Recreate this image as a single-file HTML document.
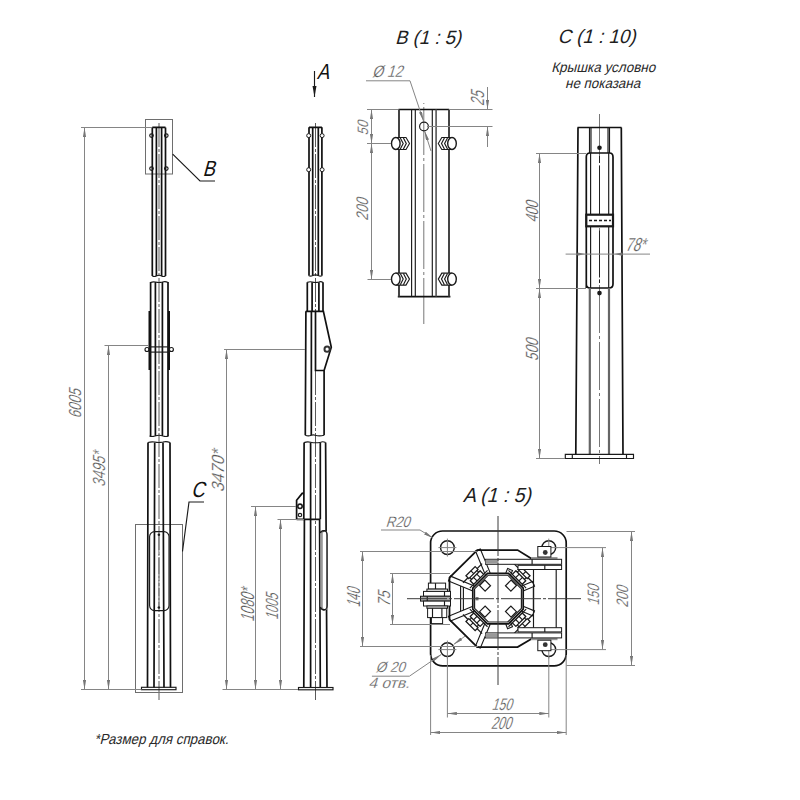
<!DOCTYPE html>
<html><head><meta charset="utf-8">
<style>
html,body{margin:0;padding:0;background:#fff;width:800px;height:800px;overflow:hidden}
svg{display:block}
text{font-family:"Liberation Sans",sans-serif;font-style:normal}
.k{stroke:#111;stroke-width:1.7;fill:none}
.kt{stroke:#1a1a1a;stroke-width:1.15;fill:none}
.kw{stroke:#1a1a1a;stroke-width:1;fill:#fff}
.g{stroke:#858585;stroke-width:1;fill:none}
.c{stroke:#777;stroke-width:1;fill:none;stroke-dasharray:16 2 2 2}
.dt{fill:#6e6e6e;font-size:14px}
.ti{fill:#222;font-size:19px}
</style></head><body>
<svg width="800" height="800" viewBox="0 0 800 800">
<defs>
<marker id="ar" viewBox="0 0 9.5 3.2" refX="9.5" refY="1.6" markerWidth="9.5" markerHeight="3.2" markerUnits="userSpaceOnUse" orient="auto-start-reverse">
<path d="M0,0 L9.5,1.6 L0,3.2 z" fill="#777"/>
</marker>
</defs>

<!-- ============ POLE 1 ============ -->
<g id="pole1">
<line class="c" style="stroke-dasharray:24 2 3 2;stroke:#5a5a5a" x1="159" y1="123" x2="159" y2="700"/>
<rect class="g" style="stroke:#6e6e6e" x="145.5" y="119.5" width="27" height="54.5"/>
<rect class="g" style="stroke:#6e6e6e" x="135.5" y="524.5" width="47" height="168"/>
<!-- section 1 -->
<path class="k" d="M152.3,127.4 V276 M156.4,127.4 V276 M161.6,127.4 V276 M165.5,127.4 V276 M152.3,127.4 H165.5"/>
<path class="kt" d="M152.3,276 q2,1 4,0 q3,-1.5 5.2,0 q2,1 4,0"/>
<circle class="kt" cx="151.5" cy="135.6" r="1.8"/><circle class="kt" cx="166.3" cy="135.6" r="1.8"/>
<circle class="kt" cx="151.5" cy="168.6" r="1.8"/><circle class="kt" cx="166.3" cy="168.6" r="1.8"/>
<!-- section 2 -->
<path class="k" d="M150.6,282 V436 M155.4,282 V436 M162.4,282 V436 M168,282 V436"/>
<path class="kt" d="M150.6,282.5 q2,-1 4.8,-0.5 q3.5,1 7,0 q3,-1 5.6,0.5"/>
<path class="kt" d="M149.5,436 q2,1 5.5,0 q4,-1.5 8,0 q3,1 5.6,0"/>
<path class="k" d="M149.5,311 V370 M169,311 V370" style="stroke-width:2"/>
<rect class="kt" x="149.5" y="346.9" width="19.5" height="5.2" fill="#fff"/>
<circle class="kt" cx="147" cy="349.5" r="2"/><circle class="kt" cx="171.4" cy="349.5" r="2"/>
<!-- section 3 -->
<path class="k" d="M148,442.5 L147.5,687.5 M154.7,442.5 L154,687.5 M163,442.5 L164,687.5 M170,442.5 L170.5,687.5"/>
<path class="kt" d="M148,442.5 q3,-1 6.7,-0.5 q4,1 8.3,0 q3.5,-1 7,0.5"/>
<rect class="kt" x="149.6" y="531.6" width="19.4" height="79" rx="5"/>
<path d="M158.9,536 V606" style="stroke:#777;stroke-width:1;stroke-dasharray:16 2 2 2"/>
<circle cx="158.9" cy="534.8" r="1.3" fill="#1a1a1a"/><circle cx="158.9" cy="607.5" r="1.3" fill="#1a1a1a"/>
<rect class="kt" x="141.5" y="687.3" width="34.5" height="2.4"/>
</g>

<!-- leaders B / C -->
<path class="kt" d="M172.7,154.2 L200,181 H215"/>
<path class="kt" d="M182.5,551.5 L189,502 H204"/>

<!-- dims pole1 -->
<path class="g" d="M81,127.5 H152 M81,689.5 H141.5 M104.5,345.5 H148"/>
<line class="g" x1="84.5" y1="127.5" x2="84.5" y2="689.5" marker-start="url(#ar)" marker-end="url(#ar)"/>
<line class="g" x1="108.5" y1="345.5" x2="108.5" y2="689.5" marker-start="url(#ar)" marker-end="url(#ar)"/>

<!-- ============ POLE 2 ============ -->
<g id="pole2">
<line class="c" style="stroke-dasharray:24 2 3 2;stroke:#5a5a5a" x1="315.5" y1="123" x2="315.5" y2="700"/>
<path class="k" d="M309,127.3 V275.6 M312.7,127.3 V275.6 M318.3,127.3 V275.6 M321.9,127.3 V275.6 M309,127.3 H321.9"/>
<path class="kt" d="M308.6,275.6 q2,1.2 4.1,0 q2.8,-1.5 5.6,0 q2,1.2 4,0"/>
<circle class="kw" cx="308.7" cy="135.6" r="2"/><circle class="kw" cx="322.1" cy="135.6" r="2"/>
<circle class="kw" cx="308.7" cy="169.7" r="2"/><circle class="kw" cx="322.1" cy="169.7" r="2"/>
<path class="k" d="M307.3,282.2 V311.3 M312.1,282.2 V311.3 M318.9,282.2 V311.3 M323,282.2 V311.3"/>
<path class="kt" d="M307.3,282.4 q2.4,-1 4.8,-0.4 q3.4,1 6.8,0 q2,-1 4.1,0.4"/>
<path class="k" d="M305.8,311.3 H323.4 L331.3,347.3 L324.1,370.5 H315.5 V311.3"/>
<path class="k" d="M305.9,311.3 L305.3,435.3 M311.4,311.3 L311.3,435.3 M324.1,370.5 V435.3"/>
<circle cx="327.1" cy="349.2" r="2.6" style="fill:#fff;stroke:#333;stroke-width:2"/>
<path class="kt" d="M305.3,435.3 q3,1.3 6,0 q2,-0.8 4,0 q4,1.3 8.7,0"/>
<path class="k" d="M304.1,442.5 L303.8,519.3 M310.6,442.5 V687.5 M320.3,442.5 V519.3 M325.6,442.5 L327,687.5"/>
<path class="kt" d="M304.1,442.6 q3,-1.3 6.5,-0.4 q5,1.2 10,0 q2.5,-1 5,0.4"/>
<path class="k" d="M296.6,519.3 H320.3 M304.4,519.3 L303.8,687.5 M319.6,519.3 L320.3,687.5"/>
<path class="k" d="M296.6,519.3 V500.3 L302.2,493.4 L303.8,493.1"/>
<circle cx="300" cy="506.3" r="2.2" style="fill:#fff;stroke:#1a1a1a;stroke-width:1.6"/>
<circle class="kt" cx="300" cy="515" r="1.7"/>
<path d="M320.3,533 Q321,530.6 324,530.6 Q327,531 326.9,535 V605 Q327,610 324,610 Q321,609.5 320.3,607" style="fill:#999;stroke:#1a1a1a;stroke-width:1.3"/>
<path d="M322.8,533 V607 Q323,609.5 326.9,609.5 V531.5 Q323,531 322.8,533 Z" fill="#fff"/>
<path class="kt" d="M322.5,531 Q327,529.5 326.9,535 V606 Q327,610.5 322.5,609.5"/>
<rect class="kt" x="298.5" y="687.5" width="34.5" height="2.3"/>
</g>
<!-- A arrow -->
<line class="kt" x1="314.5" y1="71" x2="314.5" y2="97" marker-end="url(#ak)"/>
<path d="M312.5,86 L314.5,97 L316.5,86 z" fill="#1a1a1a"/>

<!-- dims pole2 -->
<path class="g" d="M222.5,689.5 H298 M224,349.5 H305 M251,506.5 H296 M277.5,519.5 H304"/>
<line class="g" x1="226.5" y1="349.5" x2="226.5" y2="689.5" marker-start="url(#ar)" marker-end="url(#ar)"/>
<line class="g" x1="255.5" y1="506.5" x2="255.5" y2="689.5" marker-start="url(#ar)" marker-end="url(#ar)"/>
<line class="g" x1="280.5" y1="519.5" x2="280.5" y2="689.5" marker-start="url(#ar)" marker-end="url(#ar)"/>


<!-- ============ B VIEW ============ -->
<g id="bview">
<line class="c" style="stroke-dasharray:48 3 3 3;stroke-dashoffset:-4" x1="423.8" y1="103" x2="423.8" y2="324"/>
<path class="k" d="M398.5,109.5 H449.2 M397.8,296.6 H450.4" />
<path d="M399,109.5 V296.6 M449,109.5 V296.6" style="stroke:#444;stroke-width:2;fill:none"/>
<path class="kt" d="M411.6,109.5 V296.6 M415.3,109.5 V296.6 M432.3,109.5 V296.6"/>
<path d="M436.1,109.5 V296.6" style="stroke:#555;stroke-width:1.6;fill:none"/>
<circle class="kt" cx="424" cy="126.5" r="4.4"/>
<!-- bolts -->
<g id="boltL" transform="translate(0,143.5)">
<path d="M396,-6 H406 L409.5,0 L406,6 H396 Z" style="fill:#fff;stroke:#1a1a1a;stroke-width:1.1"/>
<path class="kt" d="M400.3,-5.6 L403.2,0 L400.3,5.6 M403.4,-5.6 L406.3,0 L403.4,5.6"/>
<ellipse cx="395.8" cy="0" rx="4.3" ry="6" style="fill:#fff;stroke:#1a1a1a;stroke-width:1.4"/>
</g>
</g>

<use href="#boltL" transform="translate(0,135.6)"/>
<g transform="translate(847.8,0) scale(-1,1)"><use href="#boltL"/><use href="#boltL" transform="translate(0,135.6)"/></g>
<!-- B dims -->
<path class="g" d="M367,109.5 H398 M367,143.5 H391 M367.5,279.5 H391 M449,109.5 H492.5 M427,126.5 H492.5"/>
<line class="g" x1="371.5" y1="109.5" x2="371.5" y2="143.5" marker-start="url(#ar)" marker-end="url(#ar)"/>
<line class="g" x1="371.5" y1="143.5" x2="371.5" y2="279.5" marker-start="url(#ar)" marker-end="url(#ar)"/>
<line class="g" x1="487.5" y1="87" x2="487.5" y2="109.5" marker-end="url(#ar)"/>
<line class="g" x1="487.5" y1="147" x2="487.5" y2="126.5" marker-end="url(#ar)"/>
<path class="g" d="M366,80.8 H410 L423.5,121" marker-end="url(#ar)"/>
<line class="g" x1="431" y1="151" x2="424.6" y2="131" marker-end="url(#ar)"/>

<!-- ============ C VIEW ============ -->
<g id="cview">
<line class="c" style="stroke-dasharray:48 3 3 3" x1="599.5" y1="114" x2="599.5" y2="464"/>
<path class="k" d="M577.5,127.5 H621.5 M578,127.5 L575.8,454.3 M621.3,127.5 L623,454.3"/>
<path class="kt" d="M589.5,127.5 V153 M591,127.5 V153 M608,127.5 V153 M609.5,127.5 V153"/>
<path class="k" d="M586.3,288 V157 Q586.3,153 590,153 H609.5 Q613,153 613,157 V284 Q613,288 609,288 H590 Q586.3,288 586.3,284 Z" fill="#fff"/>
<path class="kt" d="M590.6,153 V214.7 M608.7,153 V214.7 M590.6,226.3 V288 M608.7,226.3 V288"/>
<rect x="586.3" y="214.7" width="26.7" height="11.6" style="fill:#fff;stroke:#1a1a1a;stroke-width:2.2"/>
<path d="M589,220.5 H611" style="stroke:#1a1a1a;stroke-width:1.4;stroke-dasharray:3 2"/>
<path d="M589.8,288 V454.3 M609,288 V454.3" style="stroke:#666;stroke-width:2.2;fill:none"/>
<circle cx="599.5" cy="147.8" r="2.3" fill="#1a1a1a"/>
<path d="M599.5,156 V163 M599.5,166 V214.7 M599.5,230.6 V277.5 M599.5,280 V283" style="stroke:#222;stroke-width:1;fill:none"/>
<circle cx="599.5" cy="293.1" r="2.3" fill="#1a1a1a"/>
<path class="kt" d="M565.3,454.3 H633.5 V458.5 H565.3 Z M572.3,454.3 V458.5 M626.5,454.3 V458.5"/>
</g>
<path class="g" d="M536,153.5 H586 M536,288.5 H586 M536,458.5 H565"/>
<line class="g" x1="539.5" y1="153.5" x2="539.5" y2="288.5" marker-start="url(#ar)" marker-end="url(#ar)"/>
<line class="g" x1="539.5" y1="288.5" x2="539.5" y2="458.5" marker-start="url(#ar)" marker-end="url(#ar)"/>
<line class="g" x1="565.6" y1="254.1" x2="650" y2="254.1"/>
<path d="M577.5,252.5 L585,254.1 L577.5,255.7 z M621.9,252.5 L614.4,254.1 L621.9,255.7 z" fill="#777"/>

<!-- ============ A VIEW ============ -->
<g id="aview">
<rect class="k" x="430.6" y="531" width="135.6" height="134.8" rx="12"/>
<circle class="kt" style="stroke-width:1.4" cx="447.4" cy="547.6" r="6.9"/>
<path class="g" d="M438.4,547.6 H456.4 M447.4,538.6 V556.6"/>
<circle class="kt" style="stroke-width:1.4" cx="548.8" cy="547.6" r="6.9"/>
<path class="g" d="M539.8,547.6 H557.8 M548.8,538.6 V556.6"/>
<circle class="kt" style="stroke-width:1.4" cx="447.4" cy="649.6" r="6.9"/>
<path class="g" d="M438.4,649.6 H456.4 M447.4,640.6 V658.6"/>
<circle class="kt" style="stroke-width:1.4" cx="548.8" cy="649.6" r="6.9"/>
<path class="g" d="M539.8,649.6 H557.8 M548.8,640.6 V658.6"/>
<polygon points="531.25,558.5 517.6,550.1 477.25,550.1 449.5,577.6 449.5,619.6 477.25,647.1 517.6,647.1 531.25,639 533.5,639 533.5,558.5" fill="#fff"/>
<polyline class="kt" points="463.40,612.93 463.40,584.27" />
<polyline class="kt" points="460.60,614.09 460.60,583.11" />
<polyline class="kt" points="533.50,583.90 533.50,613.30" />
<polyline class="kt" points="533.50,583.90 533.50,613.30" />
<polyline class="kt" points="472.27,590.76 448.50,580.91 450.49,576.11 474.26,585.95" style="fill:#fff"/>
<polyline class="kt" points="474.26,611.25 450.49,621.09 448.50,616.29 472.27,606.44" style="fill:#fff"/>
<polyline class="kt" points="485.35,574.86 475.51,551.09 480.31,549.10 490.16,572.87" style="fill:#fff"/>
<polyline class="kt" points="490.16,624.33 480.31,648.10 475.51,646.11 485.35,622.34" style="fill:#fff"/>
<polyline class="kt" points="505.84,572.87 507.65,568.50 512.46,570.49 510.65,574.86" style="fill:#fff"/>
<polyline class="kt" points="510.65,622.34 512.46,626.71 507.65,628.70 505.84,624.33" style="fill:#fff"/>
<polyline class="kt" points="521.74,585.95 532.48,581.50 534.47,586.31 523.73,590.76" style="fill:#fff"/>
<polyline class="kt" points="523.73,606.44 534.47,610.89 532.48,615.70 521.74,611.25" style="fill:#fff"/>
<polyline class="kt" points="463.00,582.69 482.09,563.60" style="stroke-width:1.3"/>
<polyline class="kt" points="469.86,588.13 487.53,570.46" />
<polygon class="kt" points="468.80,578.59 477.99,569.40 475.16,566.57 465.97,575.76" style="fill:#fff;stroke-width:1.3"/>
<polyline class="kt" points="473.75,573.64 470.92,570.81" />
<polygon class="kt" points="473.75,584.25 483.65,574.35 480.11,570.81 470.21,580.71" style="fill:#fff;stroke-width:1.3;stroke-linejoin:round"/>
<polyline class="kt" points="477.07,580.92 473.53,577.39" />
<polyline class="kt" points="480.32,577.67 476.79,574.13" />
<polyline class="kt" points="471.62,579.30 469.86,577.53" />
<polyline class="kt" points="478.70,572.22 476.93,570.46" />
<polygon class="kt" points="485.13,591.10 490.50,585.73 484.92,580.14 479.54,585.52" style="stroke-width:1.2"/>
<polyline class="kt" points="513.91,563.60 533.00,582.69" style="stroke-width:1.3"/>
<polyline class="kt" points="508.47,570.46 526.14,588.13" />
<polygon class="kt" points="518.01,569.40 527.20,578.59 530.03,575.76 520.84,566.57" style="fill:#fff;stroke-width:1.3"/>
<polyline class="kt" points="522.96,574.35 525.79,571.52" />
<polygon class="kt" points="512.35,574.35 522.25,584.25 525.79,580.71 515.89,570.81" style="fill:#fff;stroke-width:1.3;stroke-linejoin:round"/>
<polyline class="kt" points="515.68,577.67 519.21,574.13" />
<polyline class="kt" points="518.93,580.92 522.47,577.39" />
<polyline class="kt" points="517.30,572.22 519.07,570.46" />
<polyline class="kt" points="524.38,579.30 526.14,577.53" />
<polygon class="kt" points="505.50,585.73 510.87,591.10 516.46,585.52 511.08,580.14" style="stroke-width:1.2"/>
<polyline class="kt" points="533.00,614.51 513.91,633.60" style="stroke-width:1.3"/>
<polyline class="kt" points="526.14,609.07 508.47,626.74" />
<polygon class="kt" points="527.20,618.61 518.01,627.80 520.84,630.63 530.03,621.44" style="fill:#fff;stroke-width:1.3"/>
<polyline class="kt" points="522.25,623.56 525.08,626.39" />
<polygon class="kt" points="522.25,612.95 512.35,622.85 515.89,626.39 525.79,616.49" style="fill:#fff;stroke-width:1.3;stroke-linejoin:round"/>
<polyline class="kt" points="518.93,616.28 522.47,619.81" />
<polyline class="kt" points="515.68,619.53 519.21,623.07" />
<polyline class="kt" points="524.38,617.90 526.14,619.67" />
<polyline class="kt" points="517.30,624.98 519.07,626.74" />
<polygon class="kt" points="510.87,606.10 505.50,611.47 511.08,617.06 516.46,611.68" style="stroke-width:1.2"/>
<polyline class="kt" points="482.09,633.60 463.00,614.51" style="stroke-width:1.3"/>
<polyline class="kt" points="487.53,626.74 469.86,609.07" />
<polygon class="kt" points="477.99,627.80 468.80,618.61 465.97,621.44 475.16,630.63" style="fill:#fff;stroke-width:1.3"/>
<polyline class="kt" points="473.04,622.85 470.21,625.68" />
<polygon class="kt" points="483.65,622.85 473.75,612.95 470.21,616.49 480.11,626.39" style="fill:#fff;stroke-width:1.3;stroke-linejoin:round"/>
<polyline class="kt" points="480.32,619.53 476.79,623.07" />
<polyline class="kt" points="477.07,616.28 473.53,619.81" />
<polyline class="kt" points="478.70,624.98 476.93,626.74" />
<polyline class="kt" points="471.62,617.90 469.86,619.67" />
<polygon class="kt" points="490.50,611.47 485.13,606.10 479.54,611.68 484.92,617.06" style="stroke-width:1.2"/>
<polygon class="k" points="523.20,609.04 508.44,623.80 487.56,623.80 472.80,609.04 472.80,588.16 487.56,573.40 508.44,573.40 523.20,588.16" />
<polygon class="kt" points="521.40,608.29 507.69,622.00 488.31,622.00 474.60,608.29 474.60,588.91 488.31,575.20 507.69,575.20 521.40,588.91" />
<rect x="475.5" y="597" width="3" height="3.4" fill="#777"/>
<polyline class="k" style="stroke-width:1.8" points="531.25,558.5 517.6,550.1 477.25,550.1 449.5,577.6 449.5,619.6 477.25,647.1 517.6,647.1 531.25,639"/>
<path class="kt" d="M533.5,569.5 V628.5 M556.2,569.5 V628.5"/>
<g>
<rect x="531" y="557" width="26.5" height="2.3" fill="#999"/>
<rect x="485.5" y="559.3" width="76.1" height="5" class="kw"/>
<rect x="485.5" y="559.8" width="13" height="4" fill="#999"/>
<rect x="518" y="565.3" width="43.6" height="4.2" class="kw"/>
<path class="kt" d="M544.8,565.3 V569.5 M532.1,559.3 V564.3"/>
<rect x="537.8" y="546.5" width="13.1" height="10.5" class="kw"/>
<circle cx="545.25" cy="552.5" r="2.4" fill="#333"/>
</g>
<g transform="translate(0,1197.2) scale(1,-1)">
<rect x="531" y="557" width="26.5" height="2.3" fill="#999"/>
<rect x="485.5" y="559.3" width="76.1" height="5" class="kw"/>
<rect x="485.5" y="559.8" width="13" height="4" fill="#999"/>
<rect x="518" y="565.3" width="43.6" height="4.2" class="kw"/>
<path class="kt" d="M544.8,565.3 V569.5 M532.1,559.3 V564.3"/>
<rect x="537.8" y="546.5" width="13.1" height="10.5" class="kw"/>
<circle cx="545.25" cy="552.5" r="2.4" fill="#333"/>
</g>
<g>
<rect class="kw" x="428.4" y="583.1" width="17.2" height="6"/><path class="kt" d="M435.5,583.1 V589.1"/>
<rect class="kw" x="426.9" y="589.1" width="20.6" height="2.3"/>
<rect class="kw" x="423.5" y="591.4" width="27" height="4.85"/><path class="kt" d="M444.5,591.4 V596.25"/>
<rect class="kw" style="fill:#aaa" x="420.5" y="596.25" width="30" height="4.85"/><path class="kt" d="M427.25,596.25 V601.1"/>
<rect class="kw" x="423.5" y="601.1" width="27" height="4.9"/><path class="kt" d="M444.5,601.1 V606"/>
<rect class="kw" x="426.9" y="606" width="20.6" height="2.25"/>
<rect class="kw" x="427.6" y="608.25" width="19.15" height="9.35"/><path class="kt" d="M432.5,608.25 V617.6 M441.9,608.25 V617.6"/>
<rect class="kw" x="431.4" y="617.6" width="11.2" height="6"/>
</g>
<line style="stroke:#3a3a3a;stroke-width:1;stroke-dasharray:40 2 3 2" x1="498" y1="516" x2="498" y2="685"/>
<line style="stroke:#3a3a3a;stroke-width:1;stroke-dasharray:40 2 3 2" x1="407" y1="598.7" x2="581" y2="598.7"/>

</g>

<!-- A dims -->
<path class="g" d="M360,551.5 H478 M360,646.5 H478 M390,573.5 H450 M390,624.5 H450"/>
<line class="g" x1="362.5" y1="551.5" x2="362.5" y2="646.5" marker-start="url(#ar)" marker-end="url(#ar)"/>
<line class="g" x1="392.5" y1="573.5" x2="392.5" y2="624.5" marker-start="url(#ar)" marker-end="url(#ar)"/>
<path class="g" d="M556,547.6 H606 M566.5,531.5 H635 M566.5,665.5 H635"/>
<path class="g" d="M556,649.6 H606"/>
<line class="g" x1="602.5" y1="547.6" x2="602.5" y2="649.6" marker-start="url(#ar)" marker-end="url(#ar)"/>
<line class="g" x1="631.5" y1="531.5" x2="631.5" y2="665.5" marker-start="url(#ar)" marker-end="url(#ar)"/>
<path class="g" d="M447.4,657 V717.5 M548.8,657 V717.5 M430.6,655 V735 M566.2,655 V735"/>
<line class="g" x1="447.4" y1="713.5" x2="548.8" y2="713.5" marker-start="url(#ar)" marker-end="url(#ar)"/>
<line class="g" x1="430.6" y1="732.5" x2="566.2" y2="732.5" marker-start="url(#ar)" marker-end="url(#ar)"/>
<path class="g" d="M381,530 H420 L433,538" marker-end="url(#ar)"/>
<path class="g" d="M371.9,676.2 H409.4 L441.3,654.4" marker-end="url(#ar)"/>
<line class="g" x1="465" y1="636.2" x2="453.7" y2="644.4" marker-end="url(#ar)"/>

<!-- footnote -->

<text font-size="19.30" textLength="66.02" lengthAdjust="spacingAndGlyphs" style="fill:#1e1e1e" transform="translate(395.00,44.25) skewX(-15)">B (1 : 5)</text>
<text font-size="19.50" textLength="78.05" lengthAdjust="spacingAndGlyphs" style="fill:#1e1e1e" transform="translate(557.38,42.88) skewX(-15)">C (1 : 10)</text>
<text font-size="14.00" textLength="104.03" lengthAdjust="spacingAndGlyphs" style="fill:#2a2a2a" transform="translate(551.20,72.35) skewX(-14)">Крышка условно</text>
<text font-size="14.00" textLength="75.05" lengthAdjust="spacingAndGlyphs" style="fill:#2a2a2a" transform="translate(565.05,87.90) skewX(-14)">не показана</text>
<text font-size="20.50" textLength="68.08" lengthAdjust="spacingAndGlyphs" style="fill:#1e1e1e" transform="translate(462.70,502.00) skewX(-15)">A (1 : 5)</text>
<text font-size="17.45" textLength="29.16" lengthAdjust="spacingAndGlyphs" style="fill:#555;stroke:#fff;stroke-width:0.25" transform="translate(80.50,418.50) rotate(-90) skewX(-17)">6005</text>
<text font-size="17.54" textLength="35.13" lengthAdjust="spacingAndGlyphs" style="fill:#555;stroke:#fff;stroke-width:0.25" transform="translate(104.88,486.88) rotate(-90) skewX(-17)">3495*</text>
<text font-size="17.59" textLength="42.07" lengthAdjust="spacingAndGlyphs" style="fill:#555;stroke:#fff;stroke-width:0.25" transform="translate(223.68,492.35) rotate(-90) skewX(-17)">3470*</text>
<text font-size="18.92" textLength="33.19" lengthAdjust="spacingAndGlyphs" style="fill:#555;stroke:#fff;stroke-width:0.25" transform="translate(253.75,621.95) rotate(-90) skewX(-17)">1080*</text>
<text font-size="17.59" textLength="26.24" lengthAdjust="spacingAndGlyphs" style="fill:#555;stroke:#fff;stroke-width:0.25" transform="translate(277.68,620.08) rotate(-90) skewX(-17)">1005</text>
<text font-size="16.62" textLength="30.19" lengthAdjust="spacingAndGlyphs" style="fill:#555;stroke:#fff;stroke-width:0.25" transform="translate(372.07,77.35) skewX(-17)">Ø 12</text>
<text font-size="18.97" textLength="14.28" lengthAdjust="spacingAndGlyphs" style="fill:#555;stroke:#fff;stroke-width:0.25" transform="translate(484.40,105.95) rotate(-90) skewX(-17)">25</text>
<text font-size="15.11" textLength="14.18" lengthAdjust="spacingAndGlyphs" style="fill:#555;stroke:#fff;stroke-width:0.25" transform="translate(367.80,135.45) rotate(-90) skewX(-17)">50</text>
<text font-size="16.80" textLength="22.18" lengthAdjust="spacingAndGlyphs" style="fill:#555;stroke:#fff;stroke-width:0.25" transform="translate(367.80,220.70) rotate(-90) skewX(-17)">200</text>
<text font-size="17.60" textLength="21.19" lengthAdjust="spacingAndGlyphs" style="fill:#555;stroke:#fff;stroke-width:0.25" transform="translate(537.70,222.75) rotate(-90) skewX(-17)">400</text>
<text font-size="17.60" textLength="22.15" lengthAdjust="spacingAndGlyphs" style="fill:#555;stroke:#fff;stroke-width:0.25" transform="translate(537.70,361.25) rotate(-90) skewX(-17)">500</text>
<text font-size="18.92" textLength="20.24" lengthAdjust="spacingAndGlyphs" style="fill:#555;stroke:#fff;stroke-width:0.25" transform="translate(624.88,250.75) skewX(-17)">78*</text>
<text font-size="15.07" textLength="24.19" lengthAdjust="spacingAndGlyphs" style="fill:#555;stroke:#fff;stroke-width:0.25" transform="translate(385.45,526.85) skewX(-17)">R20</text>
<text font-size="18.88" textLength="19.18" lengthAdjust="spacingAndGlyphs" style="fill:#555;stroke:#fff;stroke-width:0.25" transform="translate(360.45,607.55) rotate(-90) skewX(-17)">140</text>
<text font-size="17.51" textLength="15.40" lengthAdjust="spacingAndGlyphs" style="fill:#555;stroke:#fff;stroke-width:0.25" transform="translate(389.60,607.05) rotate(-90) skewX(-17)">75</text>
<text font-size="16.55" textLength="20.18" lengthAdjust="spacingAndGlyphs" style="fill:#555;stroke:#fff;stroke-width:0.25" transform="translate(598.67,605.50) rotate(-90) skewX(-17)">150</text>
<text font-size="16.57" textLength="21.26" lengthAdjust="spacingAndGlyphs" style="fill:#555;stroke:#fff;stroke-width:0.25" transform="translate(627.70,607.65) rotate(-90) skewX(-17)">200</text>
<text font-size="16.57" textLength="20.18" lengthAdjust="spacingAndGlyphs" style="fill:#555;stroke:#fff;stroke-width:0.25" transform="translate(491.50,709.70) skewX(-17)">150</text>
<text font-size="17.55" textLength="20.22" lengthAdjust="spacingAndGlyphs" style="fill:#555;stroke:#fff;stroke-width:0.25" transform="translate(490.82,728.62) skewX(-17)">200</text>
<text font-size="14.68" textLength="29.13" lengthAdjust="spacingAndGlyphs" style="fill:#555;stroke:#fff;stroke-width:0.25" transform="translate(375.50,671.62) skewX(-17)">Ø 20</text>
<text font-size="14.81" textLength="41.26" lengthAdjust="spacingAndGlyphs" style="fill:#555;stroke:#fff;stroke-width:0.25" transform="translate(368.20,687.50) skewX(-17)">4 отв.</text>
<text font-size="22.00" textLength="12.19" lengthAdjust="spacingAndGlyphs" style="fill:#111" transform="translate(316.75,78.95) skewX(-15)">A</text>
<text font-size="22.00" textLength="12.14" lengthAdjust="spacingAndGlyphs" style="fill:#111" transform="translate(202.62,175.62) skewX(-15)">B</text>
<text font-size="22.00" textLength="13.25" lengthAdjust="spacingAndGlyphs" style="fill:#111" transform="translate(190.93,497.10) skewX(-15)">C</text>
<text font-size="14.50" textLength="134.05" lengthAdjust="spacingAndGlyphs" style="fill:#2a2a2a" transform="translate(94.35,744.00) skewX(-14)">*Размер для справок.</text>
</svg>
</body></html>
